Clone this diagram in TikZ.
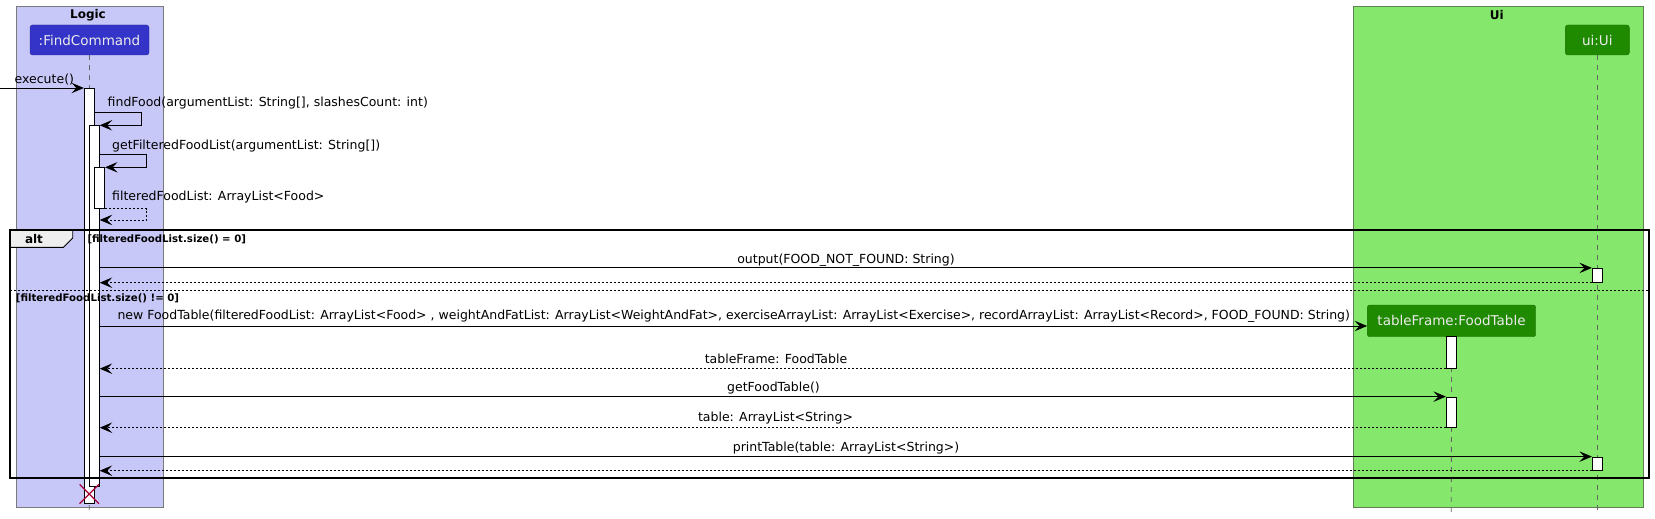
\documentclass[tikz,border=0pt]{standalone}
\usepackage{fontspec}
\setmainfont{DejaVu Sans}
\usetikzlibrary{arrows.meta,shapes.misc}
\definecolor{logicbg}{HTML}{C8C8F8}
\definecolor{logicfg}{HTML}{3434C8}
\definecolor{uibg}{HTML}{85E86D}
\definecolor{uifg}{HTML}{1F8A00}
\definecolor{grpline}{HTML}{7A7A7A}
\definecolor{destroyc}{HTML}{A80036}
\definecolor{tabfill}{HTML}{EEEEEE}
\tikzset{
  msg/.style={draw=black, line width=0.9pt, -{Stealth[length=12.5pt,width=10.5pt,inset=5pt]}},
  ret/.style={msg, dash pattern=on 2pt off 2pt},
  lbl/.style={font=\fontsize{12.5}{15}\selectfont, inner sep=0pt, text=black},
  guard/.style={font=\bfseries\fontsize{10.2}{12}\selectfont, inner sep=0pt, anchor=west},
  grptitle/.style={font=\bfseries\fontsize{12}{14}\selectfont, inner sep=0pt},
  grpbox/.style={draw=grpline, line width=0.8pt},
  actbox/.style={draw=black, fill=white, line width=0.8pt, inner sep=0pt, minimum width=10.4pt},
  lifeline/.style={draw=black!60, dash pattern=on 5pt off 5pt, line width=0.8pt},
  partbox/.style={rounded corners=2.5pt, inner sep=0pt, minimum height=30pt, text=white!92!black,
    font=\fontsize{13.5}{16}\selectfont},
}
\begin{document}
\begin{tikzpicture}[x=1pt,y=-1pt]
\useasboundingbox (0,0) rectangle (1655,519);
% group boxes
\node[grpbox, fill=logicbg, minimum width=146.5pt, minimum height=501pt, inner sep=0pt] (logic) at (89.75,256.5) {};
\node[grpbox, fill=uibg, draw=grpline!70!uifg, minimum width=290pt, minimum height=501.3pt, inner sep=0pt] (uigrp) at (1498.3,256.65) {};
\node[grptitle] (logict) at (88,15.5) {Logic};
\node[grptitle] (uit) at (1496.7,15.5) {Ui};
% participants
\node[partbox, fill=logicfg, draw=logicfg!80!black, minimum width=119pt] (fc) at (89.5,40) {:FindCommand};
\node[partbox, fill=uifg, draw=uifg!80!black, minimum width=64pt] (ui) at (1597.3,40) {ui:Ui};
\node[partbox, fill=uifg, draw=uifg!80!black, minimum width=168.4pt, minimum height=31.7pt] (tf) at (1451.5,320.85) {tableFrame:FoodTable};
% lifeline ends
\coordinate (fcend) at (89.3,512);
\coordinate (uiend) at (1597.3,512);
\coordinate (tfend) at (1451.3,512);
\draw[lifeline] (fc.south) -- (fcend);
\draw[lifeline] (ui.south) -- (uiend);
\draw[lifeline] (tf.south) -- (tfend);
% activations
\node[actbox, minimum height=415pt] (a1) at (89.5,295.5) {};
\node[actbox, minimum width=10pt, minimum height=360.3pt] (a2) at (94.3,305.85) {};
\node[actbox, minimum width=10pt, minimum height=40.6pt] (a3) at (99.7,188) {};
\node[actbox, minimum height=14pt] (u1) at (1597.5,275.3) {};
\node[actbox, minimum height=13.3pt] (u2) at (1597.5,463.65) {};
\node[actbox, minimum height=31.6pt] (t1) at (1451.5,352.5) {};
\node[actbox, minimum height=30.3pt] (t2) at (1451.5,412.15) {};
% destroy
\node[cross out, draw=destroyc, line width=1.3pt, minimum size=18pt, inner sep=0pt] (kill) at (89.3,494) {};
% messages
\coordinate (ex0) at (0,88);
\draw[msg] (ex0) -- (a1.west |- ex0);
\node[lbl, anchor=west] (exl) at (14.5,79.5) {execute()};

\coordinate (ff) at (141.7,112.7);
\draw[msg] (a1.east |- ff) -- (ff) |- (a2.north east);
\node[lbl, anchor=west] (ffl) at (107.5,103) {findFood(argumentList: String[], slashesCount: int)};

\coordinate (gf) at (146.7,154.7);
\draw[msg] (a2.east |- gf) -- (gf) |- (a3.north east);
\node[lbl, anchor=west] (gfl) at (112,145.7) {getFilteredFoodList(argumentList: String[])};

\coordinate (rf) at (146.7,220);
\draw[ret] (a3.south east) -| (rf) -- (a2.east |- rf);
\node[lbl, anchor=west] (rfl) at (112,197.3) {filteredFoodList: ArrayList<Food>};

% alt frame
\coordinate (altnw) at (10,230);
\coordinate (altse) at (1649,478);
\fill[tabfill] (10,230) -- (72.7,230) -- (72.7,238) -- (63.5,247.3) -- (10,247.3) -- cycle;
\draw[line width=0.9pt] (10,247.3) -- (63.5,247.3) -- (72.7,238) -- (72.7,230);
\node[font=\bfseries\fontsize{12}{14}\selectfont, inner sep=0pt] (altl) at (34,239) {alt};
\node[guard] (g1) at (87.3,239) {[filteredFoodList.size() = 0]};
\coordinate (sepw) at (10,290.7);
\coordinate (sepe) at (1649,290.7);
\draw[line width=0.6pt, dash pattern=on 2pt off 2pt] (sepw) -- (sepe);
\node[guard] (g2) at (15.7,298.5) {[filteredFoodList.size() != 0]};
\draw[line width=1.6pt] (altnw) rectangle (altse);

\draw[msg] (a2.east |- u1.north) -- (u1.north west);
\node[lbl] (ol) at (846,260) {output(FOOD\_NOT\_FOUND: String)};
\draw[ret] (u1.south west) -- (a2.east |- u1.south);

\coordinate (nf) at (0,326);
\draw[msg] (a2.east |- nf) -- (tf.west |- nf);
\node[lbl, anchor=west] (nfl) at (117.3,316.5) {new FoodTable(filteredFoodList: ArrayList<Food> , weightAndFatList: ArrayList<WeightAndFat>, exerciseArrayList: ArrayList<Exercise>, recordArrayList: ArrayList<Record>, FOOD\_FOUND: String)};

\draw[ret] (t1.south west) -- (a2.east |- t1.south);
\node[lbl] (tfl) at (776,359) {tableFrame: FoodTable};

\draw[msg] (a2.east |- t2.north) -- (t2.north west);
\node[lbl] (gtl) at (773.5,388.3) {getFoodTable()};

\draw[ret] (t2.south west) -- (a2.east |- t2.south);
\node[lbl] (tl) at (775.5,418.3) {table: ArrayList<String>};

\draw[msg] (a2.east |- u2.north) -- (u2.north west);
\node[lbl] (ptl) at (846,448.3) {printTable(table: ArrayList<String>)};
\draw[ret] (u2.south west) -- (a2.east |- u2.south);
\end{tikzpicture}
\end{document}
